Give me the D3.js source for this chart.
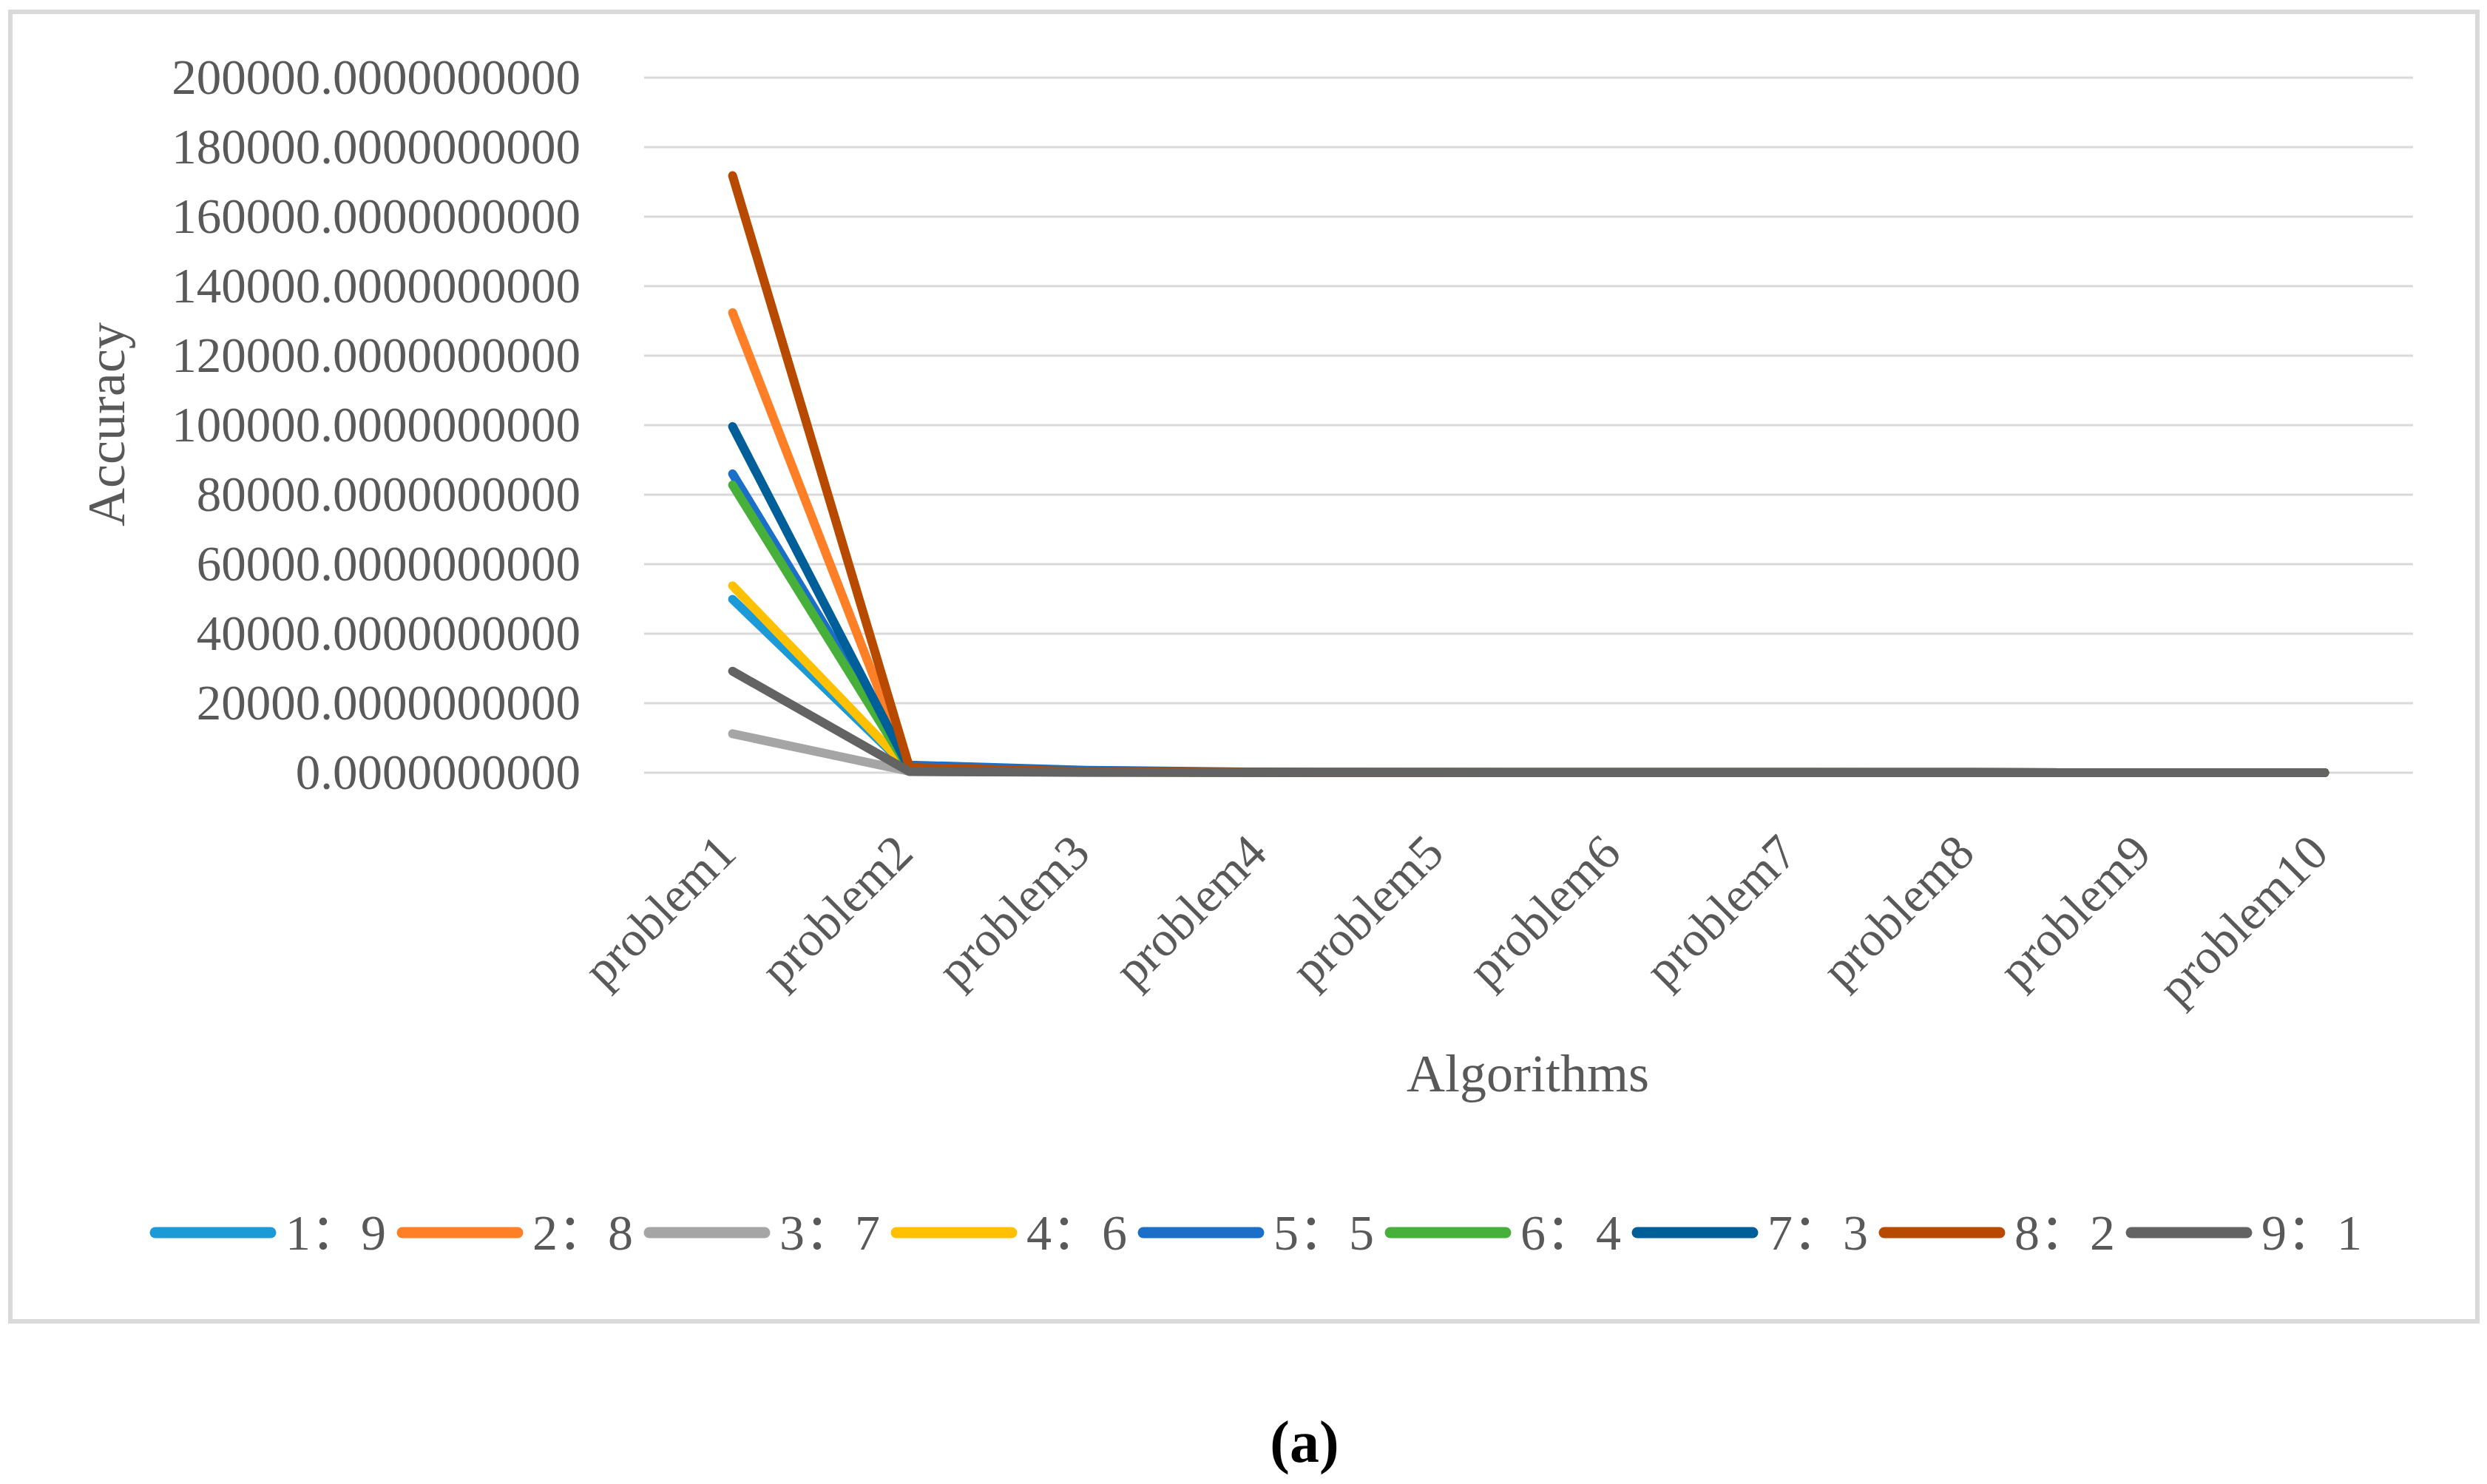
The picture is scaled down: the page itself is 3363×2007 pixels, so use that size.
<!DOCTYPE html>
<html>
<head>
<meta charset="utf-8">
<script src="https://d3js.org/d3.v7.min.js"></script>
<style>
  body { margin: 0; background: #fff; }
</style>
</head>
<body>
<svg width="3363" height="2007"></svg>
<script>
// Data
var problems = ["problem1", "problem2", "problem3", "problem4", "problem5",
                "problem6", "problem7", "problem8", "problem9", "problem10"];
var ratios = ["1：9", "2：8", "3：7", "4：6", "5：5", "6：4", "7：3", "8：2", "9：1"];
var colors = ["#1a9ad6", "#ff7f27", "#a5a5a5", "#ffc000", "#1b6fc8",
              "#46b03a", "#005f99", "#b84a00", "#636363"];

var s19 = [49900, 900, 200, 60, 40, 30, 30, 20, 20, 20];
var s28 = [132400, 1100, 250, 80, 50, 40, 30, 30, 20, 20];
var s37 = [11200, 400, 100, 40, 30, 20, 20, 20, 10, 10];
var s46 = [53800, 900, 200, 60, 40, 30, 30, 20, 20, 20];
var s55 = [86000, 2200, 700, 150, 60, 40, 30, 30, 20, 20];
var s64 = [82800, 1000, 250, 80, 50, 40, 30, 30, 20, 20];
var s73 = [99600, 1200, 300, 80, 50, 40, 30, 30, 20, 20];
var s82 = [171800, 1500, 300, 90, 50, 40, 30, 30, 20, 20];
var s91 = [29200, 300, 100, 40, 30, 20, 20, 20, 10, 10];
var series = [s19, s28, s37, s46, s55, s64, s73, s82, s91];

var yTicks = [0, 20000, 40000, 60000, 80000, 100000, 120000, 140000, 160000, 180000, 200000];

var svg = d3.select("svg"),
  width = +svg.attr("width"),
  height = +svg.attr("height");

var textColor = "#595959";
var font = "'Liberation Serif', 'Noto Sans CJK SC', serif";

// Outer chart border
svg.append("rect")
  .attr("x", 14).attr("y", 16)
  .attr("width", 3336).attr("height", 1771)
  .attr("fill", "none")
  .attr("stroke", "#d9d9d9")
  .attr("stroke-width", 6);

// Scales
var x = d3.scalePoint()
  .domain(problems)
  .range([871, 3263])
  .padding(0.5);

var y = d3.scaleLinear()
  .domain([0, 200000])
  .range([1045, 105]);

// Gridlines
svg.append("g")
  .selectAll("line")
  .data(yTicks)
  .enter()
  .append("line")
    .attr("x1", 871)
    .attr("x2", 3263)
    .attr("y1", function (d) { return y(d); })
    .attr("y2", function (d) { return y(d); })
    .attr("stroke", "#d9d9d9")
    .attr("stroke-width", 3);

// Y axis labels
var yAxis = svg.append("g")
  .attr("transform", "translate(785,0)")
  .call(d3.axisLeft(y).tickValues(yTicks).tickFormat(d3.format(".10f")).tickSize(0).tickPadding(0));
yAxis.select(".domain").remove();
yAxis.selectAll("text")
  .attr("fill", textColor)
  .style("font-family", font)
  .style("font-size", "67px");

// X axis labels, rotated
svg.append("g")
  .selectAll("text")
  .data(problems)
  .enter()
  .append("text")
    .attr("transform", function (d) { return "translate(" + (x(d) + 8) + ",1157) rotate(-45)"; })
    .attr("text-anchor", "end")
    .attr("fill", textColor)
    .style("font-family", font)
    .style("font-size", "67px")
    .text(function (d) { return d; });

// Axis titles
svg.append("text")
  .attr("transform", "translate(168,574) rotate(-90)")
  .attr("text-anchor", "middle")
  .attr("fill", textColor)
  .style("font-family", font)
  .style("font-size", "72px")
  .text("Accuracy");

svg.append("text")
  .attr("x", 2066)
  .attr("y", 1476)
  .attr("text-anchor", "middle")
  .attr("fill", textColor)
  .style("font-family", font)
  .style("font-size", "72px")
  .text("Algorithms");

// Lines
var line = d3.line()
  .x(function (d, i) { return x(problems[i]); })
  .y(function (d) { return y(d); });

svg.append("g")
  .selectAll("path")
  .data(series)
  .enter()
  .append("path")
    .attr("d", line)
    .attr("fill", "none")
    .attr("stroke", function (d, i) { return colors[i]; })
    .attr("stroke-width", 12)
    .attr("stroke-linecap", "round")
    .attr("stroke-linejoin", "round");

// Legend
var legendX = d3.scaleLinear().domain([0, 1]).range([210, 544]);
var legend = svg.append("g")
  .selectAll("g")
  .data(ratios)
  .enter()
  .append("g")
    .attr("transform", function (d, i) { return "translate(" + legendX(i) + ",1667)"; });

legend.append("line")
  .attr("x1", 0).attr("x2", 156)
  .attr("y1", 0).attr("y2", 0)
  .attr("stroke", function (d, i) { return colors[i]; })
  .attr("stroke-width", 15)
  .attr("stroke-linecap", "round");

legend.append("text")
  .attr("x", 176)
  .attr("y", 23)
  .attr("fill", textColor)
  .style("font-family", font)
  .style("font-size", "68px")
  .text(function (d) { return d; });

// Caption
svg.append("text")
  .attr("x", 1764)
  .attr("y", 1977)
  .attr("text-anchor", "middle")
  .attr("fill", "#000")
  .style("font-family", "'Liberation Serif', serif")
  .style("font-weight", "bold")
  .style("font-size", "80px")
  .text("(a)");
</script>
</body>
</html>
